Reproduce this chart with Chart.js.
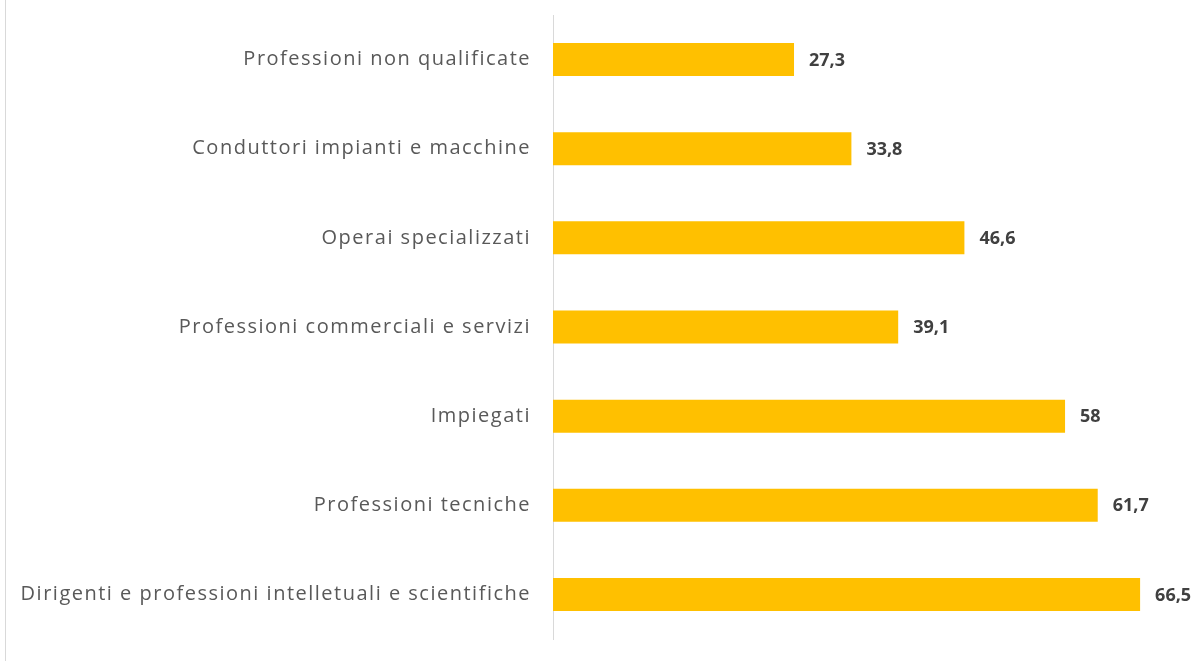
<!DOCTYPE html>
<html>
<head>
<meta charset="utf-8">
<script src="https://cdn.jsdelivr.net/npm/chart.js@4/dist/chart.umd.min.js"></script>
<style>
  html, body { margin: 0; padding: 0; background: #fff; }
  #wrap { position: relative; width: 1195px; height: 661px; }
  #wrap::before { content: ''; position: absolute; left: 5px; top: 0; bottom: 0; border-left: 1px solid #d9d9d9; }
  canvas { display: block; }
</style>
</head>
<body>
<div id="wrap"><canvas id="chart" width="1195" height="661"></canvas></div>
<script>
// categories, top to bottom
const categories = [
    'Professioni non qualificate',
    'Conduttori impianti e macchine',
    'Operai specializzati',
    'Professioni commerciali e servizi',
    'Impiegati',
    'Professioni tecniche',
    'Dirigenti e professioni intelletuali e scientifiche'
];
const values = [27.3, 33.8, 46.6, 39.1, 58, 61.7, 66.5];

const fontFamily = '"Open Sans", sans-serif';

// the original labels are spaced out a bit
const spacing = {
    id: 'spacing',
    beforeDraw(chart) { chart.ctx.letterSpacing = '1.5px'; },
    afterDraw(chart) { chart.ctx.letterSpacing = '0px'; }
};

// draws the value next to each bar, italian decimal comma
const valueLabels = {
    id: 'valueLabels',
    afterDatasetsDraw(chart) {
        const ctx = chart.ctx;
        const meta = chart.getDatasetMeta(0);
        ctx.save();
        ctx.letterSpacing = '0px';
        ctx.font = 'bold 18px ' + fontFamily;
        ctx.fillStyle = '#404040';
        ctx.textAlign = 'left';
        ctx.textBaseline = 'middle';
        meta.data.forEach((bar, i) => {
            const txt = String(values[i]).replace('.', ',');
            ctx.fillText(txt, bar.x + 15, bar.y + 1);
        });
        ctx.restore();
    }
};

new Chart(document.getElementById('chart'), {
    type: 'bar',
    data: {
        labels: categories,
        datasets: [{
            data: values,
            backgroundColor: '#FFC000',
            categoryPercentage: 1,
            barPercentage: 0.37
        }]
    },
    options: {
        indexAxis: 'y',
        responsive: false,
        animation: false,
        layout: { padding: { left: 0, right: 24, top: 15, bottom: 22 } },
        plugins: {
            legend: { display: false },
            tooltip: { enabled: false }
        },
        scales: {
            x: { display: false, min: 0, max: 70 },
            y: {
                grid: { display: false },
                border: { display: true, color: '#d9d9d9', width: 1 },
                ticks: {
                    color: '#595959',
                    padding: 14,
                    font: { family: fontFamily, size: 20 }
                },
                afterFit(scale) {
                    scale.width = 553;
                    scale.paddingTop = 0;
                    scale.paddingBottom = 0;
                }
            }
        }
    },
    plugins: [spacing, valueLabels]
});
</script>
</body>
</html>
